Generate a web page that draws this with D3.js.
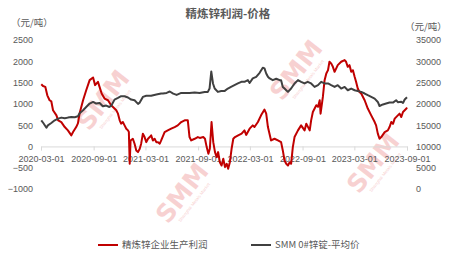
<!DOCTYPE html>
<html>
<head>
<meta charset="utf-8">
<script src="https://cdn.jsdelivr.net/npm/d3@7"></script>
<style>
  html, body { margin: 0; padding: 0; background: #fff; }
  svg { display: block; }
  text { font-family: "Liberation Sans", Arial, "Noto Sans CJK SC", sans-serif; }
</style>
</head>
<body>
<svg id="chart" width="456" height="258"></svg>
<script>
// ---------- data ----------
const title = "精炼锌利润-价格";
const unitLabel = "（元/吨）";
const seriesNames = ["精炼锌企业生产利润", "SMM 0#锌锭-平均价"];
const xTickLabels = ["2020-03-01","2020-09-01","2021-03-01","2021-09-01","2022-03-01","2022-09-01","2023-03-01","2023-09-01"];
const leftTicks = [-1000, -500, 0, 500, 1000, 1500, 2000, 2500];
const rightTicks = [0, 5000, 10000, 15000, 20000, 25000, 30000, 35000];

const profitDates = ["2020-03-02","2020-03-08","2020-03-16","2020-03-23","2020-03-31","2020-04-06","2020-04-12","2020-04-24","2020-04-30","2020-05-11","2020-05-23","2020-06-03","2020-06-15","2020-06-21","2020-07-02","2020-07-08","2020-07-14","2020-07-26","2020-08-06","2020-08-18","2020-08-30","2020-09-06","2020-09-16","2020-09-23","2020-09-29","2020-10-09","2020-10-21","2020-11-01","2020-11-13","2020-11-19","2020-11-25","2020-12-01","2020-12-06","2020-12-12","2020-12-18","2020-12-24","2020-12-30","2021-01-02","2021-01-05","2021-01-08","2021-01-16","2021-01-22","2021-01-28","2021-02-03","2021-02-09","2021-02-14","2021-02-20","2021-02-26","2021-03-04","2021-03-10","2021-03-16","2021-03-21","2021-03-27","2021-04-02","2021-04-08","2021-04-14","2021-04-20","2021-04-25","2021-05-07","2021-05-18","2021-05-30","2021-06-11","2021-06-22","2021-07-04","2021-07-16","2021-07-27","2021-08-02","2021-08-08","2021-08-20","2021-08-31","2021-09-07","2021-09-19","2021-09-25","2021-10-01","2021-10-07","2021-10-12","2021-10-18","2021-10-24","2021-10-30","2021-11-05","2021-11-10","2021-11-16","2021-11-22","2021-11-28","2021-12-04","2021-12-10","2021-12-15","2021-12-21","2021-12-27","2022-01-02","2022-01-08","2022-01-19","2022-01-31","2022-02-10","2022-02-16","2022-02-28","2022-03-11","2022-03-17","2022-03-29","2022-04-09","2022-04-21","2022-04-27","2022-05-03","2022-05-14","2022-05-26","2022-06-07","2022-06-18","2022-06-24","2022-06-30","2022-07-06","2022-07-12","2022-07-18","2022-07-23","2022-07-29","2022-08-04","2022-08-16","2022-08-27","2022-09-08","2022-09-14","2022-09-26","2022-10-01","2022-10-07","2022-10-19","2022-10-25","2022-10-31","2022-11-03","2022-11-11","2022-11-17","2022-11-23","2022-11-29","2022-12-04","2022-12-10","2022-12-16","2022-12-22","2023-01-02","2023-01-14","2023-01-26","2023-01-31","2023-02-06","2023-02-12","2023-02-18","2023-02-24","2023-03-02","2023-03-07","2023-03-13","2023-03-19","2023-03-25","2023-04-06","2023-04-17","2023-04-29","2023-05-11","2023-05-16","2023-05-22","2023-05-28","2023-06-03","2023-06-15","2023-06-26","2023-07-02","2023-07-08","2023-07-14","2023-07-20","2023-07-31","2023-08-06","2023-08-12","2023-08-18","2023-08-30","2023-09-01"];
const profit = [1460,1420,1400,1200,1085,1060,850,730,610,570,455,377,260,337,455,540,780,1085,1320,1557,1620,1440,1517,1370,1243,1125,1085,967,890,850,770,613,535,573,495,417,377,340,-408,140,180,64,-94,-134,-55,64,300,220,100,180,220,260,140,180,100,100,64,140,337,377,417,455,495,573,613,613,220,140,180,220,200,220,180,-16,-172,-55,573,100,-134,-252,-134,-370,-448,-290,-487,-408,-526,-370,-55,180,220,260,300,377,270,417,495,455,573,730,865,770,455,140,180,140,100,-94,-330,-408,-448,-370,-408,-16,220,377,495,377,535,377,613,810,967,930,1085,770,1163,1557,1714,1792,1989,1950,1870,1752,1910,1989,2028,1989,1870,1910,1752,1790,1635,1517,1360,1280,1243,1085,890,730,573,495,300,180,220,337,377,455,573,530,653,730,770,690,810,890,912];

const priceDates = ["2020-03-02","2020-03-09","2020-03-20","2020-03-25","2020-04-06","2020-04-18","2020-04-30","2020-05-11","2020-05-23","2020-06-03","2020-06-15","2020-06-27","2020-07-08","2020-07-14","2020-07-26","2020-08-06","2020-08-18","2020-08-30","2020-09-10","2020-09-22","2020-10-03","2020-10-15","2020-10-26","2020-11-01","2020-11-13","2020-11-25","2020-12-06","2020-12-18","2020-12-30","2021-01-10","2021-01-22","2021-02-03","2021-02-09","2021-02-20","2021-03-04","2021-03-21","2021-04-08","2021-04-25","2021-05-01","2021-05-14","2021-05-25","2021-06-06","2021-06-18","2021-07-04","2021-07-16","2021-08-02","2021-08-20","2021-09-06","2021-09-24","2021-10-05","2021-10-11","2021-10-17","2021-10-23","2021-10-29","2021-11-09","2021-11-21","2021-12-02","2021-12-14","2021-12-25","2022-01-06","2022-01-18","2022-01-30","2022-02-10","2022-02-22","2022-02-28","2022-03-11","2022-03-23","2022-04-04","2022-04-15","2022-04-21","2022-04-27","2022-05-03","2022-05-09","2022-05-20","2022-06-01","2022-06-13","2022-06-18","2022-06-24","2022-06-30","2022-07-06","2022-07-12","2022-07-23","2022-08-04","2022-08-16","2022-08-27","2022-09-08","2022-09-19","2022-10-01","2022-10-13","2022-10-25","2022-11-05","2022-11-17","2022-11-29","2022-12-10","2022-12-22","2023-01-02","2023-01-14","2023-01-26","2023-02-06","2023-02-18","2023-03-02","2023-03-13","2023-03-25","2023-04-06","2023-04-17","2023-04-29","2023-05-11","2023-05-22","2023-05-28","2023-06-09","2023-06-20","2023-07-02","2023-07-14","2023-07-25","2023-07-31","2023-08-12","2023-08-18","2023-08-24","2023-09-01"];
const price = [16130,15500,14400,14950,15500,16130,16530,16770,16600,16770,16910,16850,17075,17800,18490,19270,20070,20450,20070,20210,19430,19600,19270,19500,21000,21400,21800,21800,21500,21010,20850,20000,20300,21630,21900,21900,22190,22430,22430,22570,22900,22400,22100,22570,22570,22570,22650,22570,22810,22810,23600,27600,24790,23600,22810,23040,23000,23600,23980,24390,24790,25170,25170,25570,24900,25970,26350,27300,28500,28320,27140,26350,25970,25570,25900,25570,25570,23980,23600,23200,22810,23600,24790,25570,25170,24790,25170,24790,23980,24390,25170,24790,24790,24390,23980,24390,23600,23980,23200,23600,23200,23000,22810,22430,22030,21630,21230,20450,19500,19870,20070,20300,20300,20850,20400,20500,20200,21010,21550];

// ---------- chart ----------
const svg = d3.select("#chart");
const parse = d3.timeParse("%Y-%m-%d");
const textColor = "#595959";

const x = d3.scaleTime()
  .domain([parse(xTickLabels[0]), parse(xTickLabels[xTickLabels.length - 1])])
  .range([41, 407]);
const yL = d3.scaleLinear().domain([-1000, 2500]).range([189, 40]);
const yR = d3.scaleLinear().domain([0, 35000]).range([189, 40]);

// watermarks
const marks = [[103, 100], [296, 70], [182, 193], [373, 163]];
marks.forEach(([cx, cy]) => {
  const g = svg.append("g").attr("transform", `translate(${cx},${cy}) rotate(-52)`);
  g.append("text").attr("text-anchor", "middle").attr("dy", "0.35em")
    .attr("font-size", 25).attr("font-weight", "bold")
    .style("font-family", "'DejaVu Sans', sans-serif")
    .attr("fill", "#f3b3b3").attr("fill-opacity", 0.6).text("SMM");
  g.append("text").attr("text-anchor", "middle").attr("y", 17)
    .attr("font-size", 4.5).attr("fill", "#f4b8b8").attr("fill-opacity", 0.7)
    .text("Shanghai Metals Market");
});

// title
svg.append("text").attr("x", 228).attr("y", 17.5).attr("text-anchor", "middle")
  .attr("font-size", 11.5).attr("font-weight", "bold").attr("fill", textColor)
  .style("font-family", "'Noto Sans CJK SC', sans-serif").text(title);

// unit labels
svg.append("text").attr("x", 11).attr("y", 26).attr("font-size", 9.5).attr("fill", textColor)
  .style("font-family", "'Noto Sans CJK SC', sans-serif").text(unitLabel);
svg.append("text").attr("x", 405).attr("y", 30).attr("font-size", 9.5).attr("fill", textColor)
  .style("font-family", "'Noto Sans CJK SC', sans-serif").text(unitLabel);

// x axis at y=0
const xAxis = svg.append("g").attr("transform", `translate(0,${yL(0)})`)
  .call(d3.axisBottom(x)
    .tickValues(xTickLabels.map(parse))
    .tickFormat(d3.timeFormat("%Y-%m-%d"))
    .tickSize(4).tickPadding(5));
xAxis.select(".domain").attr("stroke", "#d9d9d9");
xAxis.selectAll(".tick line").attr("stroke", "#d9d9d9");
xAxis.selectAll(".tick text").attr("fill", textColor).attr("font-size", 9);

// left axis
const lAxis = svg.append("g").attr("transform", "translate(36,0)")
  .call(d3.axisLeft(yL).tickValues(leftTicks).tickFormat(d3.format("d")).tickSize(0).tickPadding(3));
lAxis.select(".domain").remove();
lAxis.selectAll(".tick text").attr("fill", textColor).attr("font-size", 9);

// right axis
const rAxis = svg.append("g").attr("transform", "translate(413,0)")
  .call(d3.axisRight(yR).tickValues(rightTicks).tickFormat(d3.format("d")).tickSize(0).tickPadding(3));
rAxis.select(".domain").remove();
rAxis.selectAll(".tick text").attr("fill", textColor).attr("font-size", 9);

// lines
const profitData = profitDates.map((d, i) => ({ date: parse(d), v: profit[i] }));
const priceData = priceDates.map((d, i) => ({ date: parse(d), v: price[i] }));

svg.append("path").datum(profitData)
  .attr("fill", "none").attr("stroke", "#C00000").attr("stroke-width", 2)
  .attr("stroke-linejoin", "round")
  .attr("d", d3.line().x(d => x(d.date)).y(d => yL(d.v)));

svg.append("path").datum(priceData)
  .attr("fill", "none").attr("stroke", "#404040").attr("stroke-width", 2)
  .attr("stroke-linejoin", "round")
  .attr("d", d3.line().x(d => x(d.date)).y(d => yR(d.v)));

// legend
const legend = [
  { name: seriesNames[0], color: "#C00000", x: 98 },
  { name: seriesNames[1], color: "#404040", x: 251 }
];
legend.forEach(l => {
  svg.append("line").attr("x1", l.x).attr("x2", l.x + 20).attr("y1", 245).attr("y2", 245)
    .attr("stroke", l.color).attr("stroke-width", 2);
  svg.append("text").attr("x", l.x + 24).attr("y", 245).attr("dy", "0.35em")
    .attr("font-size", 9.5).attr("fill", textColor)
    .style("font-family", "'Noto Sans CJK SC', sans-serif").text(l.name);
});
</script>
</body>
</html>
